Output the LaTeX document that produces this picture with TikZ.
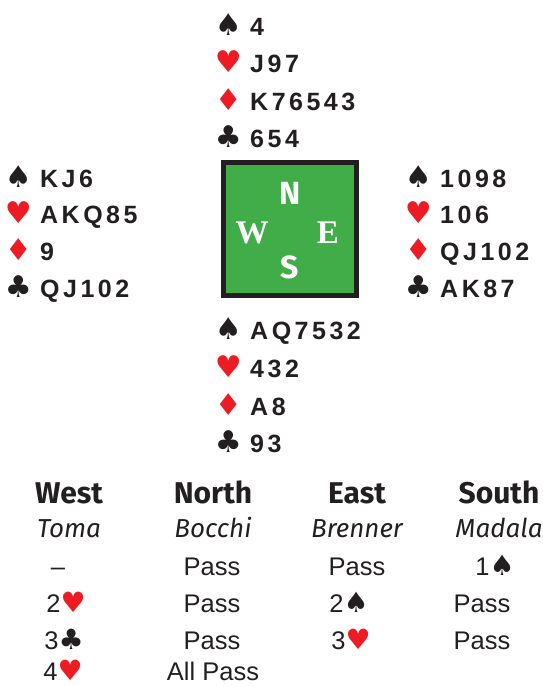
\documentclass[tikz,border=0pt]{standalone}
\usepackage{fontspec}
\setmainfont{Liberation Sans}
\newfontfamily\cardfont[LetterSpace=14]{Liberation Sans}
\newfontfamily\headfont{Fira Sans}
\newfontfamily\symfont{DejaVu Sans}
\newfontfamily\compfont{Liberation Serif}
\definecolor{suitred}{HTML}{ED1C24}
\definecolor{ink}{HTML}{231F20}
\definecolor{felt}{HTML}{41AD49}
% suit symbols
\newcommand\pipS{{\symfont ♠}}
\newcommand\pipH{{\symfont\color{suitred}♥}}
\newcommand\pipD{{\symfont\color{suitred}♦}}
\newcommand\pipC{{\symfont ♣}}
\newcommand\pipbox[1]{\makebox[20pt][c]{\fontsize{30}{30}\selectfont#1}\hspace{12pt}}
\newcommand\bidpip[1]{{\fontsize{28}{28}\selectfont#1}}
% one hand: name, x of suit symbol, four baselines
\newcommand\handrows[9]{%
  \node[card] (#1-s) at (#2,#3) {\pipbox{\pipS}#6};
  \node[card] (#1-h) at (#2,#4) {\pipbox{\pipH}#7};
  \node[card] (#1-d) at (#2,#5) {\pipbox{\pipD}#8};
  \node[card] (#1-c) at (#2,#5+37.5) {\pipbox{\pipC}#9};}
\tikzset{
  card/.style={anchor=base west, inner sep=0pt, text=ink,
    font=\cardfont\bfseries\fontsize{25}{25}\selectfont},
  seat/.style={anchor=base, inner sep=0pt, text=ink,
    font=\headfont\bfseries\fontsize{30}{30}\selectfont},
  player/.style={anchor=base, inner sep=0pt, text=ink,
    font=\headfont\itshape\fontsize{26}{26}\selectfont},
  call/.style={anchor=base, inner sep=0pt, text=ink,
    font=\fontsize{25.5}{25.5}\selectfont},
  compass/.style={text=white, inner sep=0pt},
}
\begin{document}
\begin{tikzpicture}[x=1pt,y=-1pt]
\useasboundingbox (0,0) rectangle (543,686);

% the four hands
\handrows{north}{218}{35}{72.5}{110}{4}{J97}{K76543}{654}
\handrows{west}{8}{187}{223.5}{260}{KJ6}{AKQ85}{9}{QJ102}
\handrows{east}{408}{187}{223.5}{260}{1098}{106}{QJ102}{AK87}
\handrows{south}{218}{339}{377.5}{415}{AQ7532}{432}{A8}{93}

% the table
\node[draw=ink, line width=5pt, fill=felt, minimum size=133pt, inner sep=0pt] (table) at (289.5,229) {};
\node[compass, font=\headfont\bfseries\fontsize{32}{32}\selectfont] (cN) at (290,193) {N};
\node[compass, font=\compfont\bfseries\fontsize{33}{33}\selectfont] (cW) at (252,233) {W};
\node[compass, font=\compfont\bfseries\fontsize{33}{33}\selectfont] (cE) at (328,233) {E};
\node[compass, font=\headfont\bfseries\fontsize{32}{32}\selectfont] (cS) at (290,267) {S};

% auction
\node[seat] (hW) at (69,503) {West};
\node[seat] (hN) at (213,503) {North};
\node[seat] (hE) at (357,503) {East};
\node[seat] (hS) at (499,503) {South};
\node[player] (pW) at (69,537) {Toma};
\node[player] (pN) at (213,537) {Bocchi};
\node[player] (pE) at (357,537) {Brenner};
\node[player] (pS) at (499,537) {Madala};

\node[call] (w1) at (58,575) {–};
\node[call] (n1) at (212,575) {Pass};
\node[call] (e1) at (357,575) {Pass};
\node[call] (s1) at (495,575) {1\bidpip{\pipS}};
\node[call] (w2) at (66,612) {2\bidpip{\pipH}};
\node[call] (n2) at (212,612) {Pass};
\node[call] (e2) at (349,612) {2\bidpip{\pipS}};
\node[call] (s2) at (482,612) {Pass};
\node[call] (w3) at (64,649) {3\bidpip{\pipC}};
\node[call] (n3) at (212,649) {Pass};
\node[call] (e3) at (351,649) {3\bidpip{\pipH}};
\node[call] (s3) at (482,649) {Pass};
\node[call] (w4) at (63,680) {4\bidpip{\pipH}};
\node[call] (n4) at (213,680) {All Pass};
\end{tikzpicture}
\end{document}
